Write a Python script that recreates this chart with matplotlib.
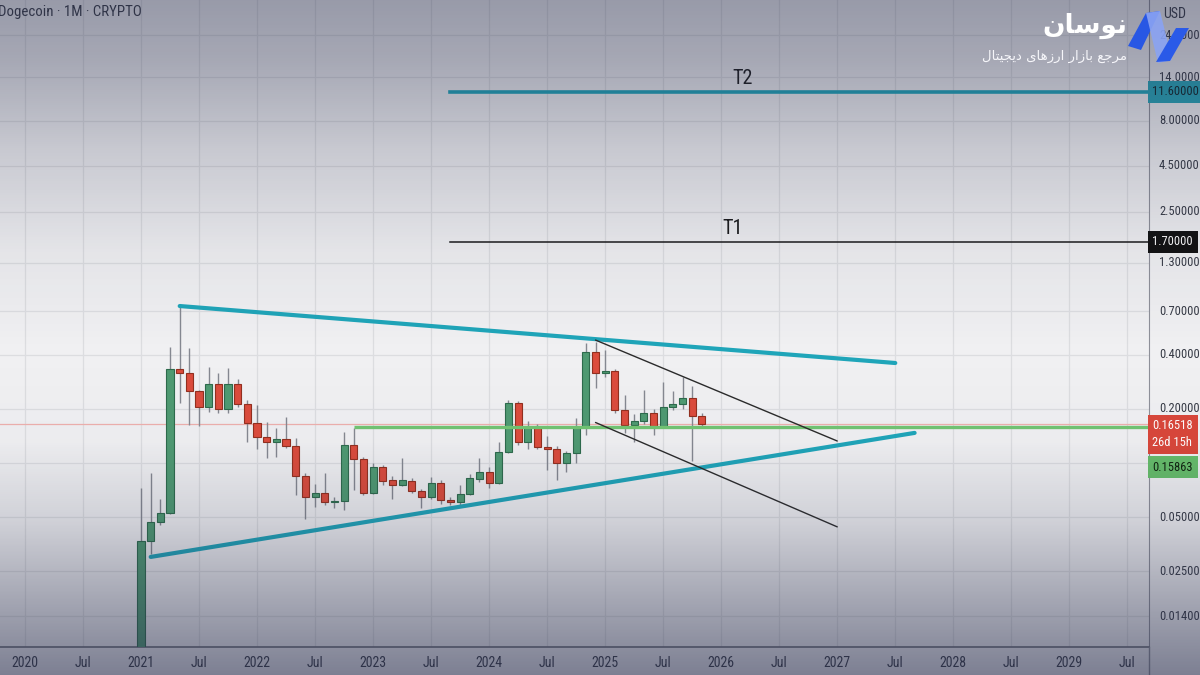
"""
Dogecoin monthly (log scale) with the analyst's trendlines and targets T1 / T2,
redrawn in the look of the TradingView screenshot.
"""
import numpy as np
import pandas as pd
import matplotlib
matplotlib.use('Agg')
import matplotlib.pyplot as plt
from matplotlib import font_manager
from matplotlib.patches import Polygon
from matplotlib.transforms import blended_transform_factory


# monthly candles Jan 2021 .. Nov 2025 (USD)
candle_months = pd.date_range('2021-01-01', '2025-11-01', freq='MS')
opens = [0.0057, 0.037, 0.047, 0.053, 0.333, 0.317, 0.251, 0.205, 0.275, 0.200,
         0.275, 0.213, 0.167, 0.1395, 0.131, 0.136, 0.124, 0.085, 0.065, 0.068,
         0.061, 0.0615, 0.126, 0.105, 0.068, 0.095, 0.0804, 0.0755, 0.0795, 0.070,
         0.0646, 0.0774, 0.0625, 0.0606, 0.0672, 0.0814, 0.089, 0.0774, 0.115, 0.216,
         0.131, 0.1566, 0.1227, 0.1195, 0.100, 0.1135, 0.1586, 0.414, 0.316, 0.325,
         0.197, 0.163, 0.1712, 0.1897, 0.1605, 0.2048, 0.213, 0.2299, 0.1825]
highs = [0.073, 0.088, 0.063, 0.44, 0.747, 0.436, 0.255, 0.342, 0.317, 0.337,
         0.293, 0.224, 0.210, 0.169, 0.157, 0.180, 0.138, 0.088, 0.076, 0.088,
         0.065, 0.149, 0.157, 0.108, 0.0995, 0.097, 0.085, 0.106, 0.082, 0.072,
         0.0836, 0.080, 0.065, 0.075, 0.0867, 0.1065, 0.095, 0.131, 0.224, 0.220,
         0.171, 0.165, 0.142, 0.124, 0.116, 0.178, 0.465, 0.47, 0.425, 0.335,
         0.239, 0.187, 0.255, 0.200, 0.282, 0.25, 0.30, 0.268, 0.19]
lows = [0.0052, 0.031, 0.045, 0.052, 0.216, 0.163, 0.160, 0.192, 0.190, 0.190,
        0.205, 0.131, 0.120, 0.107, 0.108, 0.121, 0.066, 0.049, 0.057, 0.058,
        0.056, 0.055, 0.071, 0.066, 0.067, 0.075, 0.063, 0.074, 0.068, 0.056,
        0.063, 0.059, 0.058, 0.058, 0.066, 0.078, 0.073, 0.076, 0.113, 0.126,
        0.1195, 0.120, 0.0913, 0.0804, 0.089, 0.100, 0.143, 0.261, 0.300, 0.190,
        0.147, 0.131, 0.165, 0.143, 0.158, 0.196, 0.200, 0.1025, 0.160]
closes = [0.037, 0.047, 0.053, 0.333, 0.317, 0.251, 0.205, 0.275, 0.200, 0.275,
          0.213, 0.167, 0.1395, 0.131, 0.136, 0.124, 0.085, 0.065, 0.068, 0.061,
          0.0615, 0.126, 0.105, 0.068, 0.095, 0.0795, 0.0755, 0.0804, 0.070, 0.0646,
          0.0774, 0.0622, 0.0606, 0.0672, 0.0825, 0.089, 0.0774, 0.115, 0.216, 0.131,
          0.1566, 0.1227, 0.1195, 0.100, 0.1135, 0.1586, 0.414, 0.316, 0.325, 0.197,
          0.163, 0.1712, 0.1897, 0.1605, 0.2048, 0.213, 0.2299, 0.1825, 0.16518]

# drawn objects: (start month, end month), (start price, end price)
upper_trend = (('2021-05', '2027-07'), (0.747, 0.36))
lower_trend = (('2021-02', '2027-09'), (0.030, 0.147))
channel_top = (('2024-12', '2027-01'), (0.483, 0.1325))
channel_bot = (('2024-12', '2027-01'), (0.168, 0.0441))
support_start, support_level = '2022-11', 0.15863
targets_start = '2023-09'
target_names = ['T1', 'T2']
target_levels = [1.70, 11.60]
target_label_month = ['2026-01', '2026-02']
last_price = 0.16518

y_grid = [24.0, 14.0, 8.0, 4.5, 2.5, 1.3, 0.7, 0.4, 0.2, 0.1, 0.05, 0.025, 0.014]
y_labels = [24.0, 14.0, 8.0, 4.5, 2.5, 1.3, 0.7, 0.4, 0.2, 0.05, 0.025, 0.014]
x_tick_labels = ['2020', 'Jul', '2021', 'Jul', '2022', 'Jul', '2023', 'Jul', '2024', 'Jul',
                 '2025', 'Jul', '2026', 'Jul', '2027', 'Jul', '2028', 'Jul', '2029', 'Jul']

# logo text (Persian), written in visual order with Arabic presentation forms
# because matplotlib does no Arabic shaping:  "نوسان" / "مرجع بازار ارزهای دیجیتال"
logo_title = '\uFEE5\uFE8E\uFEB3\uFEEE\uFEE7'
logo_sub = ('\uFEDD\uFE8E\uFE98\uFEF4\uFEA0\uFEF3\uFEA9 '
            '\uFEEF\uFE8E\uFEEB\uFEAF\uFEAD\uFE8D '
            '\uFEAD\uFE8D\uFEAF\uFE8E\uFE91 '
            '\uFECA\uFE9F\uFEAE\uFEE3')


def mi(s):
    """month index counted from Jan 2020"""
    t = pd.Timestamp(s)
    return (t.year - 2020) * 12 + t.month - 1


# TradingView text is narrow; use a condensed face if one is installed
names = {f.name for f in font_manager.fontManager.ttflist}
prefer = ['Liberation Sans Narrow', 'Roboto Condensed', 'Open Sans Condensed',
          'Noto Sans Condensed', 'DejaVu Sans Condensed']
narrow = [n for n in prefer if n in names] + \
    sorted(n for n in names if 'Narrow' in n or 'Condensed' in n)
BASE = narrow[0] if narrow else 'Liberation Sans'
plt.rcParams['font.family'] = [BASE, 'DejaVu Sans']
FS = 9.0 if narrow else 8.4

W, H = 1200, 675
PLOT_R, PLOT_B = 1149, 647
TXT = '#363a45'

fig = plt.figure(figsize=(W / 100, H / 100), dpi=100, facecolor='#f0f0f2')
ax = fig.add_axes([0, (H - PLOT_B) / H, PLOT_R / W, PLOT_B / H], zorder=1)
ax.set_facecolor('#f0f0f2')
ax.set_yscale('log')
ax.set_xlim(-2.585, 116.24)
ax.set_ylim(0.00946, 37.7)
for s in ['top', 'left']:
    ax.spines[s].set_visible(False)
ax.spines['right'].set_color('#8e9099')
ax.spines['bottom'].set_color('#6f717b')
ax.spines['bottom'].set_linewidth(1.2)
ax.set_xticks([])
ax.set_yticks([])
ax.minorticks_off()

# grid
for m in range(0, 120, 6):
    ax.axvline(m, color='#dcdde0', lw=0.9, zorder=0)
for v in y_grid:
    ax.axhline(v, color='#dcdde0', lw=0.9, zorder=0)

# candles
x = np.array([mi(d) for d in candle_months])
o, h, l, c = map(np.array, (opens, highs, lows, closes))
up = c >= o
ax.vlines(x, l, h, color='#858891', lw=1.0, zorder=2)
ax.bar(x[up], c[up] - o[up], bottom=o[up], width=0.74, color='#4f9a72',
       edgecolor='#2e6b4c', lw=0.8, zorder=3)
ax.bar(x[~up], o[~up] - c[~up], bottom=c[~up], width=0.74, color='#dc4c3c',
       edgecolor='#93301f', lw=0.8, zorder=3)

# price line and support
ax.axhline(last_price, color='#eeb0ad', lw=0.9, zorder=1)
ax.plot([mi(support_start), 130], [support_level, support_level],
        color='#72c472', lw=2.4, solid_capstyle='butt', zorder=4)

# trendlines
for (d, v), col, lw in [(upper_trend, '#1fa5b9', 3.0), (lower_trend, '#1fa5b9', 3.0),
                        (channel_top, '#2b2b2b', 1.0), (channel_bot, '#2b2b2b', 1.0)]:
    ax.plot([mi(d[0]), mi(d[1])], v, color=col, lw=lw, zorder=5,
            solid_capstyle='round')

# targets
for name, lvl, lm, col, lw in zip(target_names, target_levels, target_label_month,
                                  ['#1a1a1a', '#1fa5b9'], [1.1, 2.6]):
    ax.plot([mi(targets_start), 130], [lvl, lvl], color=col, lw=lw, zorder=5)
    ax.annotate(name, (mi(lm) + 1.2, lvl), xytext=(0, 3), textcoords='offset points',
                ha='center', va='bottom', fontsize=14.5, color='#1a1a1a', zorder=6)

# right price scale
tr = blended_transform_factory(ax.transAxes, ax.transData)
for v in y_labels:
    ax.text(1 + 10 / PLOT_R, v, f'{v:.5f}', transform=tr, ha='left', va='center',
            fontsize=FS, color=TXT, clip_on=False, zorder=6)


def price_box(val, text, fc, tc, dy=0.0):
    ax.annotate(text, (1, val), xycoords=tr, xytext=(2.4, dy), textcoords='offset points',
                ha='left', va='center', fontsize=FS, color=tc, linespacing=1.35,
                annotation_clip=False, zorder=7,
                bbox=dict(boxstyle='square,pad=0.38', fc=fc, ec='none'))


price_box(target_levels[1], f'{target_levels[1]:.5f}', '#27a5b7', '#10262a')
price_box(target_levels[0], f'{target_levels[0]:.5f}', '#111111', 'white')
price_box(last_price, f'{last_price:.5f}\n26d 15h', '#d9473a', 'white', dy=-7.5)
price_box(support_level, f'{support_level:.5f}', '#66bd6a', '#10240f', dy=-29)

# time axis
for i, lab in enumerate(x_tick_labels):
    xm = i * 6
    xf = (25 + xm * 9.67) / W
    fig.text(xf, 1 - 663 / H, lab, ha='center', va='center', fontsize=FS + 1.0,
             color=TXT, zorder=2)
fig.add_artist(plt.Line2D([PLOT_R / W, PLOT_R / W], [0, (H - PLOT_B) / H],
                          color='#8e9099', lw=1, zorder=2))

fig.text(-2 / W, 1 - 12 / H, 'Dogecoin \u00b7 1M \u00b7 CRYPTO', ha='left', va='center',
         fontsize=FS + 1.7, color=TXT, zorder=2)
fig.text(1163 / W, 1 - 14 / H, 'USD', ha='left', va='center', fontsize=FS + 1.0,
         color=TXT, zorder=2)

# vignette overlay of the screenshot (darker top and bottom)
rows = np.arange(H)
alpha = np.interp(rows, [0, 60, 150, 250, 350, 440, 520, 600, 675],
                  [0.44, 0.37, 0.20, 0.06, 0.0, 0.02, 0.16, 0.38, 0.58])
rgba = np.zeros((H, 1, 4))
rgba[..., 0], rgba[..., 1], rgba[..., 2] = 0.16, 0.18, 0.30
rgba[:, 0, 3] = alpha
ov = fig.add_axes([0, 0, 1, 1], zorder=5)
ov.imshow(rgba, aspect='auto', extent=(0, 1, 0, 1), interpolation='bilinear')
ov.set_axis_off()
ov.patch.set_alpha(0)


# logo
def px(xp, yp):
    return (xp / W, 1 - yp / H)


for pts, col, a in [([(1128, 46), (1146, 13), (1160, 11), (1141, 50)], '#2857e4', 1.0),
                    ([(1146, 13), (1160, 11), (1172, 60), (1158, 63)], '#8aa3f3', 0.9),
                    ([(1156, 62), (1170, 61), (1189, 28), (1176, 28)], '#2a5ae8', 1.0)]:
    fig.add_artist(Polygon([px(*p) for p in pts], closed=True, fc=col, ec='none',
                           alpha=a, zorder=8, transform=fig.transFigure))

fig.text(1127 / W, 1 - 26 / H, logo_title, ha='right', va='center', fontsize=19,
         fontweight='bold', color='white', family='DejaVu Sans', zorder=9)
fig.text(1127 / W, 1 - 56 / H, logo_sub, ha='right', va='center', fontsize=9.5,
         color='#f6f6fa', family='DejaVu Sans', zorder=9)

fig.savefig('out.png', dpi=100, facecolor=fig.get_facecolor())
